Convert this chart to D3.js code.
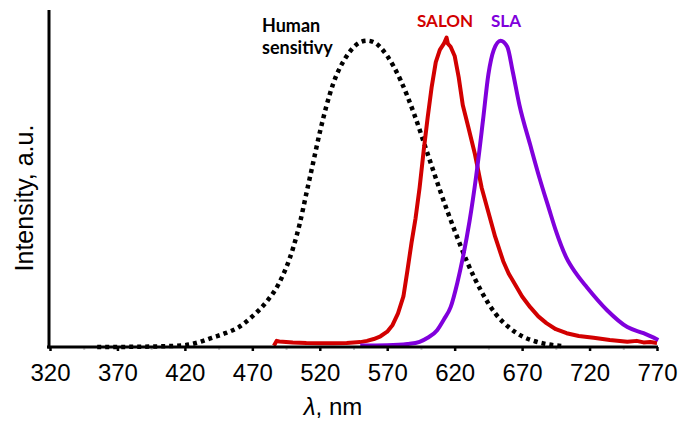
<!DOCTYPE html>
<html>
<head>
<meta charset="utf-8">
<script src="https://cdn.jsdelivr.net/npm/d3@7"></script>
<style>
  html, body { margin: 0; padding: 0; background: #fff; }
  svg { display: block; }
</style>
</head>
<body>
<div class="container"></div>
<script>
// x axis ticks (nm)
const xTicks = [320, 370, 420, 470, 520, 570, 620, 670, 720, 770];
const xMinorTicks = [345, 395, 445, 495, 545, 595, 645, 695, 745];

// human eye sensitivity (dotted black)
const humanWl  = [355, 380, 400, 420, 430, 440, 450, 460, 470, 480, 490, 500, 505, 510, 515, 520, 530, 540, 550, 555, 560, 570, 580, 590, 600, 610, 620, 630, 640, 650, 660, 670, 680, 690, 700];
const humanVal = [0.0, 0.0005, 0.002, 0.006, 0.015, 0.03, 0.045, 0.065, 0.1, 0.145, 0.21, 0.32, 0.4, 0.5, 0.6, 0.7, 0.86, 0.95, 0.995, 1.0, 0.995, 0.95, 0.87, 0.76, 0.63, 0.5, 0.38, 0.27, 0.18, 0.11, 0.065, 0.035, 0.018, 0.008, 0.003];

// SALON emission (red)
const salonWl  = [486, 488, 490, 500, 510, 520, 530, 540, 550, 555, 560, 565, 570, 574, 578, 582, 585, 588, 591, 594, 597, 600, 603, 606, 609, 612, 614, 615, 617, 620, 623, 626, 630, 635, 640, 645, 650, 656, 660, 666, 670, 676, 682, 688, 695, 703, 712, 723, 735, 748, 755, 760, 765, 770];
const salonVal = [0.004, 0.02, 0.018, 0.015, 0.013, 0.012, 0.012, 0.013, 0.016, 0.02, 0.026, 0.035, 0.05, 0.072, 0.11, 0.165, 0.25, 0.34, 0.42, 0.52, 0.64, 0.75, 0.85, 0.93, 0.97, 0.99, 1.01, 0.99, 0.98, 0.95, 0.88, 0.79, 0.72, 0.63, 0.52, 0.44, 0.36, 0.28, 0.24, 0.195, 0.165, 0.13, 0.1, 0.078, 0.058, 0.045, 0.036, 0.03, 0.023, 0.017, 0.02, 0.015, 0.016, 0.013];

// SLA emission (purple)
const slaWl  = [550, 570, 585, 594, 600, 607, 612, 617, 622, 626, 631, 636, 641, 645, 649, 654, 659, 663, 668, 676, 683, 690, 695, 703, 710, 718, 733, 748, 760, 771];
const slaVal = [0.005, 0.006, 0.01, 0.017, 0.03, 0.055, 0.09, 0.13, 0.21, 0.29, 0.41, 0.56, 0.74, 0.89, 0.97, 1.0, 0.98, 0.9, 0.79, 0.66, 0.55, 0.45, 0.38, 0.29, 0.24, 0.195, 0.12, 0.065, 0.045, 0.023];

const w = 678;
const h = 421;

const svg = d3.select(".container")
    .append("svg")
    .attr("width", w)
    .attr("height", h)
    .attr("viewBox", `0 0 ${w} ${h}`);

const xScale = d3.scaleLinear().domain([320, 770]).range([50, 657]);
const yScale = d3.scaleLinear().domain([0, 1.1]).range([347, 10]);

const line = d3.line()
    .x(d => xScale(d[0]))
    .y(d => yScale(d[1]));

// minor ticks, faint
svg.append("g")
    .attr("transform", `translate(0, ${yScale(0)})`)
    .call(d3.axisBottom(xScale).tickValues(xMinorTicks).tickSize(3).tickFormat(""))
    .call(g => g.select(".domain").remove())
    .call(g => g.selectAll("line").attr("stroke", "#c8c8c8").attr("stroke-width", 2));

// curves
svg.append("path")
    .datum(d3.zip(humanWl, humanVal))
    .attr("fill", "none")
    .attr("stroke", "#000")
    .attr("stroke-width", 4.5)
    .attr("stroke-dasharray", "4 4")
    .attr("d", line.curve(d3.curveMonotoneX));

svg.append("path")
    .datum(d3.zip(salonWl, salonVal))
    .attr("fill", "none")
    .attr("stroke", "#d20000")
    .attr("stroke-width", 4)
    .attr("stroke-linejoin", "round")
    .attr("d", line.curve(d3.curveLinear));

svg.append("path")
    .datum(d3.zip(slaWl, slaVal))
    .attr("fill", "none")
    .attr("stroke", "#8000dc")
    .attr("stroke-width", 4)
    .attr("stroke-linejoin", "round")
    .attr("d", line.curve(d3.curveMonotoneX));

// x axis
svg.append("g")
    .attr("transform", `translate(0, ${yScale(0)})`)
    .call(d3.axisBottom(xScale).tickValues(xTicks).tickSizeInner(4).tickSizeOuter(0).tickPadding(13))
    .call(g => g.select(".domain").attr("stroke-width", 3).attr("d", "M47,0H658"))
    .call(g => g.selectAll(".tick line").attr("stroke-width", 2.5))
    .call(g => g.selectAll("text")
        .attr("fill", "#000")
        .style("font-family", "'Liberation Sans', Arial, sans-serif")
        .style("font-size", "24px"));

// y axis, no ticks
svg.append("g")
    .attr("transform", `translate(${xScale(320) - 1}, 0)`)
    .call(d3.axisLeft(yScale).tickValues([]).tickSizeOuter(0))
    .call(g => g.select(".domain").attr("stroke-width", 3).attr("d", `M0,${yScale(0) + 1.5}V${yScale(1.1)}`));

// axis titles
svg.append("text")
    .attr("x", 333)
    .attr("y", 415)
    .attr("text-anchor", "middle")
    .style("font-family", "'Liberation Sans', Arial, sans-serif")
    .style("font-size", "24px")
    .html("<tspan font-style='italic'>λ</tspan>, nm");

svg.append("text")
    .attr("transform", "translate(33, 198) rotate(-90)")
    .attr("text-anchor", "middle")
    .style("font-family", "'Liberation Sans', Arial, sans-serif")
    .style("font-size", "25px")
    .text("Intensity, a.u.");

// series labels
const labelFont = "Lato, 'Open Sans', sans-serif";
svg.append("text")
    .attr("x", 262).attr("y", 32)
    .style("font-family", labelFont).style("font-weight", 700).style("font-size", "18px")
    .attr("fill", "#000")
    .text("Human");
svg.append("text")
    .attr("x", 262).attr("y", 54)
    .style("font-family", labelFont).style("font-weight", 700).style("font-size", "18px")
    .attr("fill", "#000")
    .text("sensitivy");
svg.append("text")
    .attr("x", 417).attr("y", 27)
    .style("font-family", labelFont).style("font-weight", 700).style("font-size", "17px")
    .attr("fill", "#d20000")
    .text("SALON");
svg.append("text")
    .attr("x", 491).attr("y", 27)
    .style("font-family", labelFont).style("font-weight", 700).style("font-size", "17px")
    .attr("fill", "#8000dc")
    .text("SLA");
</script>
</body>
</html>
